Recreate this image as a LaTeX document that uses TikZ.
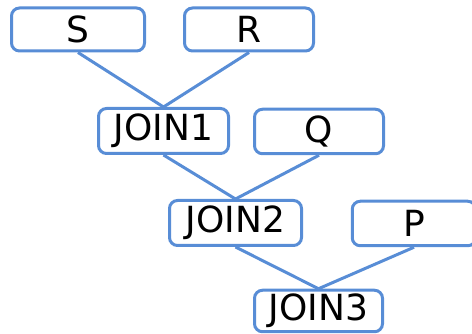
\documentclass[tikz,border=0pt]{standalone}
\usepackage{fontspec}
\setmainfont{DejaVu Sans}
\definecolor{boxblue}{RGB}{88,141,214}
\begin{document}
\begin{tikzpicture}[x=1pt,y=-1pt,
  box/.style={draw=boxblue,line width=3pt,rounded corners=8pt,fill=white,
    minimum height=43pt,inner sep=0pt,font=\fontsize{36}{40}\selectfont,text=black},
  link/.style={draw=boxblue,line width=3pt}]
\useasboundingbox (0,0) rectangle (472,334);
\begin{scope}
\clip (0,0) rectangle (472,334);
\node[box,minimum width=133pt] (S) at (78,29.5) {S};
\node[box,minimum width=129pt] (R) at (249,29.5) {R};
\node[box,minimum width=130pt,minimum height=45pt] (J1) at (163.5,131) {JOIN1};
\node[box,minimum width=129pt,minimum height=44.5pt] (Q) at (319,131.5) {Q};
\node[box,minimum width=132pt,minimum height=45pt] (J2) at (235.5,223) {JOIN2};
\node[box,minimum width=123.5pt,minimum height=44.5pt] (P) at (414,223.5) {P};
\node[box,minimum width=128pt,minimum height=41.5pt] (J3) at (318.5,311) {JOIN3};
\draw[link] (S.south) -- (J1.north);
\draw[link] (R.south) -- (J1.north);
\draw[link] (J1.south) -- (J2.north);
\draw[link] (Q.south) -- (J2.north);
\draw[link] (J2.south) -- (J3.north);
\draw[link] (P.south) -- (J3.north);
\end{scope}
\end{tikzpicture}
\end{document}
